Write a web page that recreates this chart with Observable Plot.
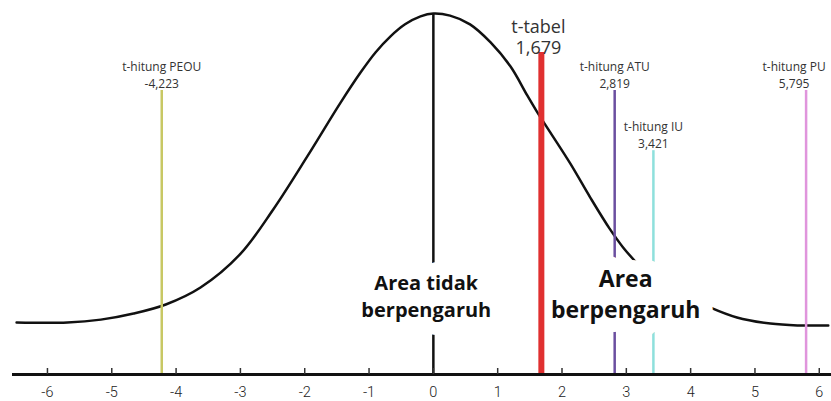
<!DOCTYPE html>
<html><head><meta charset="utf-8">
<script src="https://cdn.jsdelivr.net/npm/d3@7"></script>
<script src="https://cdn.jsdelivr.net/npm/@observablehq/plot@0.6"></script>
<style>html,body{margin:0;padding:0;background:#fff;} svg{display:block}</style>
</head><body><div id="chart"></div>
<script>
// Curve (t value, relative height above the axis);
// the part behind the "Area berpengaruh" box is not visible, so the curve is in two pieces
const curveT = [-6.48, -5.69, -5.17, -4.66, -4.16, -3.62, -3.00, -2.49, -1.96, -1.45, -1.13, -0.90, -0.67, -0.44, -0.20, 0, 0.26, 0.57, 0.89, 1.20, 1.46, 1.60, 1.82, 2.13, 2.44, 2.74, 2.95, 3.14, 4.30, 4.72, 5.24, 5.66, 6.14];
const curveV = [0.144, 0.144, 0.152, 0.169, 0.194, 0.241, 0.334, 0.457, 0.604, 0.751, 0.837, 0.892, 0.936, 0.970, 0.992, 1.0, 0.994, 0.970, 0.920, 0.853, 0.773, 0.731, 0.670, 0.584, 0.490, 0.404, 0.352, 0.313, 0.186, 0.158, 0.141, 0.136, 0.136];
const curvePiece = ["main", "main", "main", "main", "main", "main", "main", "main", "main", "main", "main", "main", "main", "main", "main", "main", "main", "main", "main", "main", "main", "main", "main", "main", "main", "main", "main", "main", "tail", "tail", "tail", "tail", "tail"];

// Vertical reference lines
const lineNames = ["t-hitung PEOU", "t-tabel", "t-hitung ATU", "t-hitung IU", "t-hitung PU"];
const lineValues = [-4.223, 1.679, 2.819, 3.421, 5.795];
const lineLabels = ["-4,223", "1,679", "2,819", "3,421", "5,795"];
const lineTops = [0.787, 0.892, 0.787, 0.620, 0.787];

// Axis ticks
const tickValues = [-6, -5, -4, -3, -2, -1, 0, 1, 2, 3, 4, 5, 6];

// Area annotations
const areaTexts = ["Area tidak\nberpengaruh", "Area\nberpengaruh"];
const areaX = [-0.11, 2.99];
const areaY = [0.220, 0.226];

const curve = curveT.map((t, i) => ({t, v: curveV[i], piece: curvePiece[i]}));
const lines = lineNames.map((name, i) => ({name, value: lineValues[i], label: lineLabels[i], top: lineTops[i]}));
const areas = areaTexts.map((text, i) => ({text, x: areaX[i], y: areaY[i]}));
const peak = d3.max(curveV);

const colorScale = {
  domain: lineNames,
  range: ["#c8c864", "#e03030", "#6b4fa0", "#8ee0dc", "#e095dc"]
};

const smallLabel = {x: "value", y: "top", text: d => d.name + "\n" + d.label, lineAnchor: "bottom", fontFamily: "Open Sans", fontSize: 12, lineHeight: 1.4, fill: "#333"};

const chart = Plot.plot({
  width: 831,
  height: 401,
  marginLeft: 0,
  marginRight: 0,
  marginTop: 13,
  marginBottom: 27,
  x: {domain: [-6.73, 6.19]},
  y: {domain: [0, 1], axis: null},
  color: colorScale,
  style: {background: "#fff"},
  marks: [
    Plot.line(curve, {x: "t", y: "v", z: "piece", curve: "catmull-rom", stroke: "#111", strokeWidth: 2.5}),
    Plot.ruleX([0], {y1: 0, y2: peak, stroke: "#111", strokeWidth: 2.5}),
    Plot.ruleX(lines.filter(d => d.name !== "t-tabel"), {x: "value", y1: 0, y2: "top", stroke: "name", strokeWidth: 2.5}),
    Plot.text(areas.slice(0, 1), {x: "x", y: "y", text: "text", fontFamily: "Open Sans", fontWeight: 700, fontSize: 20, lineHeight: 1.35, lineAnchor: "middle", fill: "#111", stroke: "#fff", strokeWidth: 26, strokeLinejoin: "round"}),
    Plot.text(areas.slice(1), {x: "x", y: "y", text: "text", fontFamily: "Open Sans", fontWeight: 700, fontSize: 23, lineHeight: 1.35, lineAnchor: "middle", fill: "#111", stroke: "#fff", strokeWidth: 28, strokeLinejoin: "round"}),
    Plot.ruleX(lines.filter(d => d.name === "t-tabel"), {x: "value", y1: 0, y2: "top", stroke: "name", strokeWidth: 6}),
    Plot.text(lines.filter(d => d.name !== "t-tabel" && d.name !== "t-hitung PU"), {...smallLabel, dy: -2.5}),
    Plot.text(lines.filter(d => d.name === "t-hitung PU"), {...smallLabel, dy: -2.5, dx: -12}),
    Plot.text(lines.filter(d => d.name === "t-tabel"), {x: "value", y: "top", text: d => d.name + "\n" + d.label, lineAnchor: "bottom", dy: 2, dx: -3, fontFamily: "Open Sans", fontSize: 18, lineHeight: 1.22, fill: "#333"}),
    Plot.ruleY([0], {stroke: "#111", strokeWidth: 3, insetLeft: 12}),
    Plot.tickX(tickValues, {x: d => d, stroke: "#333", strokeWidth: 1.5, insetTop: 355}),
    Plot.axisX(tickValues, {tickSize: 0, tickPadding: 12, fontSize: 14.5, fontFamily: "Roboto", fontWeight: 300, fill: "#222", label: null, tickFormat: d => String(d)})
  ]
});
document.getElementById("chart").appendChild(chart);
</script>
</body></html>
